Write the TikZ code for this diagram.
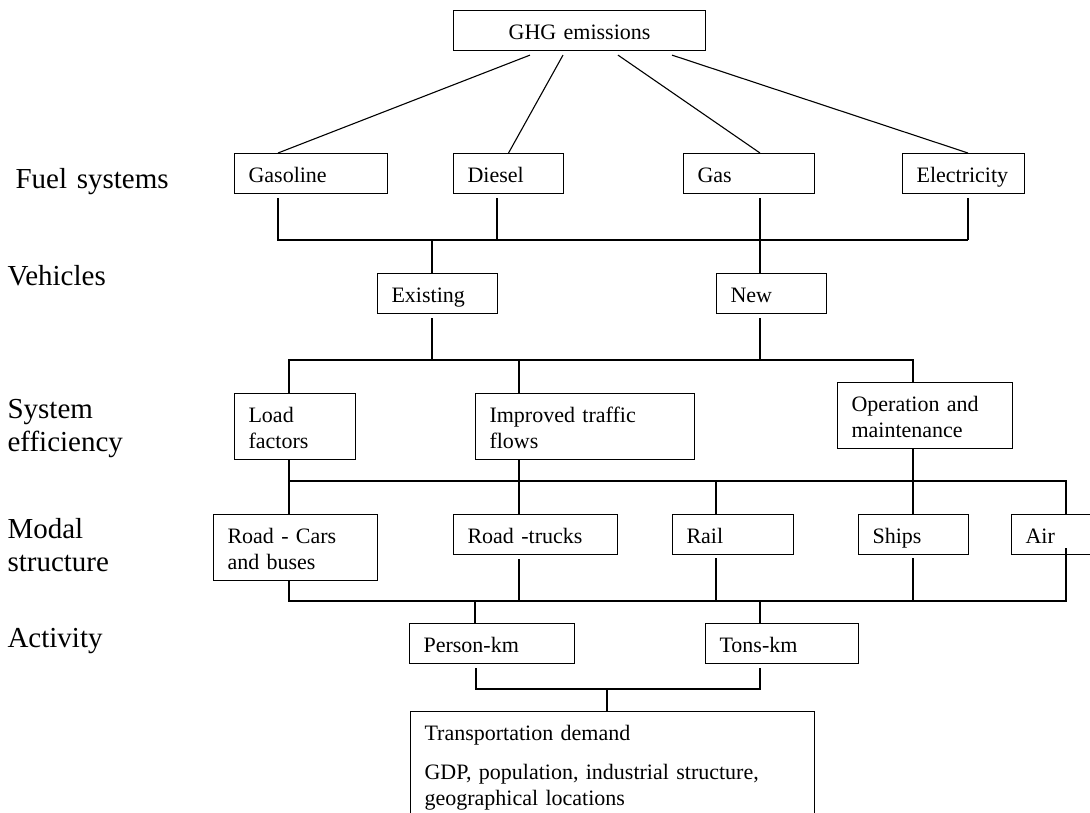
\documentclass[tikz,border=0pt]{standalone}
\usepackage{fontspec}
\setmainfont{Liberation Serif}
\usetikzlibrary{calc}
\begin{document}
\begin{tikzpicture}[x=1pt, y=1pt, line width=1.1pt]
		\tikzset{bx/.style={draw=black, anchor=north west, inner xsep=14pt, inner ysep=4pt, align=left, font=\fontsize{22}{26}\selectfont, execute at begin node={\rule{0pt}{25pt}}, execute at end node={\rule[-7pt]{0pt}{7pt}}}};
		\tikzset{lb/.style={anchor=base west, inner sep=0pt, text width=200pt, align=left, font=\fontsize{29}{33}\selectfont}};

		\useasboundingbox (0,0) rectangle (1090,-812);

		\node[lb] (fuel) at (15,-188) {Fuel systems};
		\node[lb] (veh) at (7,-285) {Vehicles};
		\node[lb] (syseff) at (7,-418) {System\\efficiency};
		\node[lb] (modal) at (7,-538) {Modal\\structure};
		\node[lb] (act) at (7,-647) {Activity};

		\node[bx, text width=224pt, align=center] (ghg) at (453,-10) {GHG emissions};
		\node[bx, text width=125pt] (gasoline) at (234,-153) {Gasoline};
		\node[bx, text width=82pt] (diesel) at (453,-153) {Diesel};
		\node[bx, text width=103pt] (gas) at (683,-153) {Gas};
		\node[bx, text width=94pt] (electricity) at (902,-153) {Electricity};
		\node[bx, text width=92pt] (existing) at (377,-273) {Existing};
		\node[bx, text width=82pt] (new) at (716,-273) {New};
		\node[bx, text width=93pt] (load) at (234,-393) {Load\\factors};
		\node[bx, text width=191pt] (improved) at (475,-393) {Improved traffic\\flows};
		\node[bx, text width=147pt] (operation) at (837,-382) {Operation and\\maintenance};
		\node[bx, text width=136pt] (roadcars) at (213,-514) {Road - Cars\\and buses};
		\node[bx, text width=136pt] (roadtrucks) at (453,-514) {Road -trucks};
		\node[bx, text width=93pt] (rail) at (672,-514) {Rail};
		\node[bx, text width=82pt] (ships) at (858,-514) {Ships};
		\node[bx, text width=72pt] (air) at (1011,-514) {Air};
		\node[bx, text width=137pt] (personkm) at (409,-623) {Person-km};
		\node[bx, text width=125pt] (tonskm) at (705,-623) {Tons-km};
		\node[bx, text width=376pt] (demand) at (410,-711) {Transportation demand\\[13pt]GDP, population, industrial structure,\\geographical locations};

		% fuel systems
		\coordinate (f1) at (278,-240);
		\coordinate (f2) at (497,-240);
		\coordinate (f3) at (432,-240);
		\coordinate (f4) at (760,-240);
		\coordinate (f5) at (968,-240);

		\draw ($(ghg.south west)+(77,-4)$) to (gasoline.north -| f1);
		\draw ($(ghg.south west)+(110,-4)$) to (diesel.north);
		\draw ($(ghg.south west)+(165,-4)$) to (gas.north -| f4);
		\draw ($(ghg.south west)+(219,-4)$) to (electricity.north -| f5);

		\draw ($(gasoline.south -| f1)+(0,-4)$) -- (f1) -- (f5);
		\draw ($(diesel.south -| f2)+(0,-4)$) -- (f2);
		\draw ($(electricity.south -| f5)+(0,-4)$) -- (f5);
		\draw ($(gas.south -| f4)+(0,-4)$) -- (new.north -| f4);
		\draw (f3) -- (existing.north -| f3);

		% vehicles
		\coordinate (v1) at (289,-360);
		\coordinate (v2) at (519,-360);
		\coordinate (v3) at (913,-360);

		\draw ($(existing.south -| f3)+(0,-4)$) -- (f3 |- v1);
		\draw ($(new.south -| f4)+(0,-4)$) -- (f4 |- v1);
		\draw (load.north -| v1) -- (v1) -- (v3) -- (operation.north -| v3);
		\draw (v2) -- (improved.north -| v2);

		% system efficiency
		\coordinate (e1) at (289,-481);
		\coordinate (e2) at (519,-481);
		\coordinate (e3) at (716,-481);
		\coordinate (e4) at (913,-481);
		\coordinate (e5) at (1066,-481);

		\draw (load.south -| e1) -- (roadcars.north -| e1);
		\draw (improved.south -| e2) -- (roadtrucks.north -| e2);
		\draw (operation.south -| e4) -- (ships.north -| e4);
		\draw (e1) -- (e5) -- (air.north -| e5);
		\draw (e3) -- (rail.north -| e3);

		% modal structure
		\coordinate (m1) at (289,-601);
		\coordinate (m2) at (475,-601);
		\coordinate (m3) at (760,-601);
		\coordinate (m4) at (1066,-601);

		\draw (roadcars.south -| m1) -- (m1) -- (m4) -- ($(air.south -| m4)+(0,7)$);
		\draw ($(roadtrucks.south -| e2)+(0,-4)$) -- (e2 |- m1);
		\draw ($(rail.south -| e3)+(0,-3)$) -- (e3 |- m1);
		\draw ($(ships.south -| e4)+(0,-3)$) -- (e4 |- m1);
		\draw (m2) -- (personkm.north -| m2);
		\draw (m3) -- (tonskm.north -| m3);

		% activity
		\coordinate (a1) at (476,-689);
		\coordinate (a2) at (760,-689);
		\coordinate (a3) at (607,-689);

		\draw ($(personkm.south -| a1)+(0,-4)$) -- (a1) -- (a2) -- ($(tonskm.south -| a2)+(0,-4)$);
		\draw (a3) -- (demand.north -| a3);
\end{tikzpicture}
\end{document}
